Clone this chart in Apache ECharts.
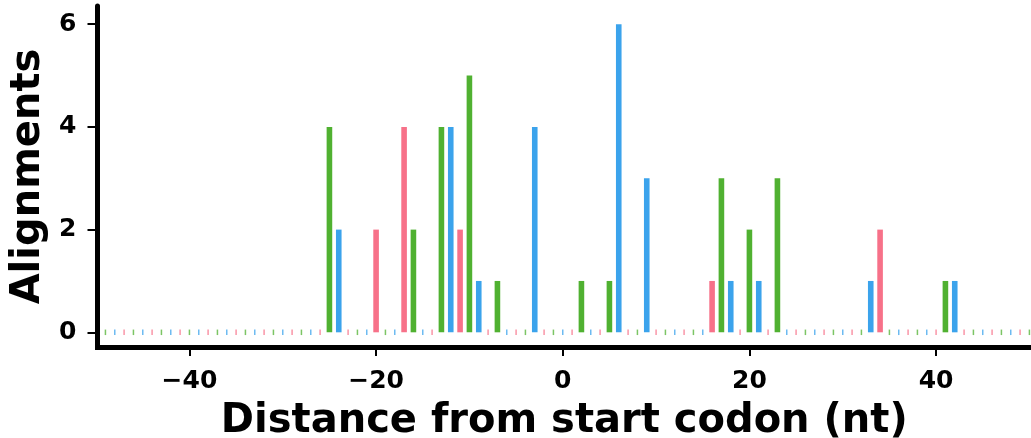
<!DOCTYPE html>
<html>
<head>
<meta charset="utf-8">
<script src="https://cdn.jsdelivr.net/npm/echarts@6/dist/echarts.min.js"></script>
<style>
html,body{margin:0;padding:0;background:#fff;}
#chart{width:1031px;height:438px;}
</style>
</head>
<body>
<div id="chart"></div>
<script>
// Distance from start codon (nt), -49 .. 50
var positions = [
-49,-48,-47,-46,-45,-44,-43,-42,-41,-40,
-39,-38,-37,-36,-35,-34,-33,-32,-31,-30,
-29,-28,-27,-26,-25,-24,-23,-22,-21,-20,
-19,-18,-17,-16,-15,-14,-13,-12,-11,-10,
-9,-8,-7,-6,-5,-4,-3,-2,-1,0,
1,2,3,4,5,6,7,8,9,10,
11,12,13,14,15,16,17,18,19,20,
21,22,23,24,25,26,27,28,29,30,
31,32,33,34,35,36,37,38,39,40,
41,42,43,44,45,46,47,48,49,50
];
// Alignments at each position
var alignments = [
0,0,0,0,0,0,0,0,0,0,
0,0,0,0,0,0,0,0,0,0,
0,0,0,0,4,2,0,0,0,2,
0,0,4,2,0,0,4,4,2,5,
1,0,1,0,0,0,4,0,0,0,
0,1,0,0,1,6,0,0,3,0,
0,0,0,0,0,1,3,1,0,2,
1,0,3,0,0,0,0,0,0,0,
0,0,1,2,0,0,0,0,0,0,
1,1,0,0,0,0,0,0,0,0
];
var xTicks = [-40, -20, 0, 20, 40];
var yTicks = [0, 2, 4, 6];
var frameColors = ['#3ba3ec', '#f77189', '#50b131']; // frame = position mod 3

function frameColor(p) { return frameColors[((p % 3) + 3) % 3]; }

var barData = [], zeroData = [];
for (var i = 0; i < positions.length; i++) {
  var p = positions[i], v = alignments[i];
  if (v > 0) barData.push({value: [p, v], itemStyle: {color: frameColor(p)}});
  else zeroData.push({value: [p, 0], itemStyle: {color: frameColor(p), opacity: 0.75}});
}

var font = 'DejaVu Sans';
var chart = echarts.init(document.getElementById('chart'), null, {renderer: 'canvas'});
chart.setOption({
  animation: false,
  backgroundColor: '#ffffff',
  grid: {left: 97.5, right: 0, top: 6, bottom: 91, containLabel: false, outerBoundsMode: 'none'},
  xAxis: {
    type: 'value', min: -49.85, max: 50.17,
    splitLine: {show: false},
    axisLine: {onZero: false, lineStyle: {color: '#000', width: 5, cap: 'square'}},
    axisTick: {show: true, length: 9, lineStyle: {color: '#000', width: 2}, customValues: xTicks},
    axisLabel: {color: '#000', fontFamily: font, fontWeight: 'bold', fontSize: 25, margin: 22,
      customValues: xTicks, formatter: function (v) { return v < 0 ? '\u2212' + Math.abs(v) : String(v); }},
    name: 'Distance from start codon (nt)', nameLocation: 'middle', nameGap: 55,
    nameTextStyle: {color: '#000', fontFamily: font, fontWeight: 'bold', fontSize: 40, lineHeight: 40}
  },
  yAxis: {
    type: 'value', min: -0.286, max: 6.354,
    splitLine: {show: false},
    axisLine: {onZero: false, lineStyle: {color: '#000', width: 5}},
    axisTick: {show: true, length: 10, lineStyle: {color: '#000', width: 2}, customValues: yTicks},
    axisLabel: {color: '#000', fontFamily: font, fontWeight: 'bold', fontSize: 25, margin: 21, customValues: yTicks},
    name: 'Alignments', nameLocation: 'middle', nameRotate: 90, nameGap: 49,
    nameTextStyle: {color: '#000', fontFamily: font, fontWeight: 'bold', fontSize: 40, lineHeight: 40}
  },
  series: [
    {type: 'bar', data: barData, barWidth: 5.6, clip: true, z: 3},
    {type: 'scatter', data: zeroData, symbol: 'rect', symbolSize: [1.5, 5.5], clip: true, z: 3}
  ]
});
</script>
</body>
</html>
